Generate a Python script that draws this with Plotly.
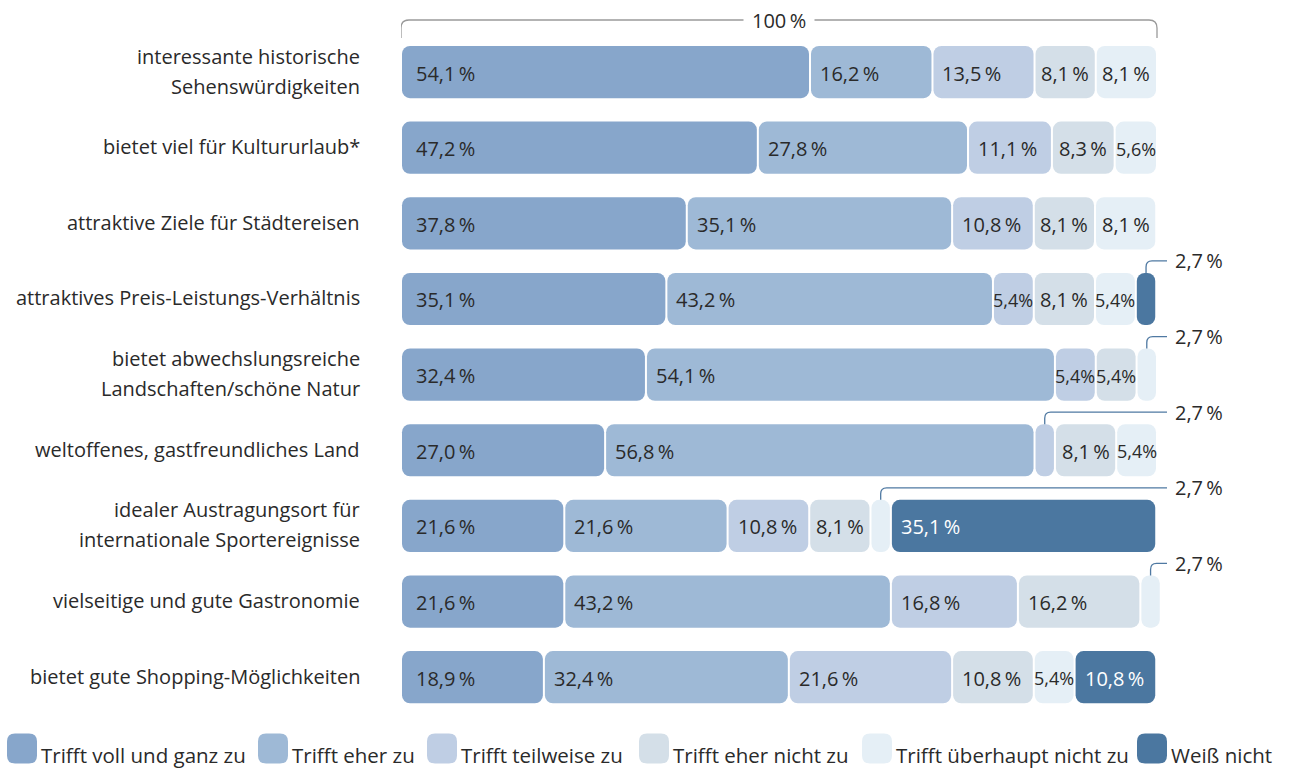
import plotly.graph_objects as go

# ---- data -------------------------------------------------------------
categories = [
    "interessante historische<br>Sehenswürdigkeiten",
    "bietet viel für Kultururlaub*",
    "attraktive Ziele für Städtereisen",
    "attraktives Preis-Leistungs-Verhältnis",
    "bietet abwechslungsreiche<br>Landschaften/schöne Natur",
    "weltoffenes, gastfreundliches Land",
    "idealer Austragungsort für<br>internationale Sportereignisse",
    "vielseitige und gute Gastronomie",
    "bietet gute Shopping-Möglichkeiten",
]
series_names = [
    "Trifft voll und ganz zu",
    "Trifft eher zu",
    "Trifft teilweise zu",
    "Trifft eher nicht zu",
    "Trifft überhaupt nicht zu",
    "Weiß nicht",
]
voll_und_ganz = [54.1, 47.2, 37.8, 35.1, 32.4, 27.0, 21.6, 21.6, 18.9]
eher = [16.2, 27.8, 35.1, 43.2, 54.1, 56.8, 21.6, 43.2, 32.4]
teilweise = [13.5, 11.1, 10.8, 5.4, 5.4, 2.7, 10.8, 16.8, 21.6]
eher_nicht = [8.1, 8.3, 8.1, 8.1, 5.4, 8.1, 8.1, 16.2, 10.8]
ueberhaupt_nicht = [8.1, 5.6, 8.1, 5.4, 2.7, 5.4, 2.7, 2.7, 5.4]
weiss_nicht = [0, 0, 0, 2.7, 0, 0, 35.1, 0, 10.8]
full_scale = 100
full_scale_label = "100\u2009%"

series = [voll_und_ganz, eher, teilweise, eher_nicht, ueberhaupt_nicht, weiss_nicht]
colors = ["#87a6cb", "#9eb9d6", "#bfcee4", "#d4dfe8", "#e5eff6", "#4b77a0"]
text_colors = ["#2a2a2a"] * 5 + ["#ffffff"]

# ---- geometry ---------------------------------------------------------
W, H = 1290, 769
ML, MR, MT, MB = 401, 60, 4, 54.4
PX_X = 7.56            # pixels per percentage point
X_MAX = (W - ML - MR) / PX_X
Y_TOP, Y_BOTTOM = -0.9, 8.5
PX_Y = (H - MT - MB) / (Y_BOTTOM - Y_TOP)
BAR_W = 0.69
HALF_GAP = 1.0 / PX_X
RADIUS = 8
FONT = "Open Sans"
TXT = "#2a2a2a"
CALLOUT = "#4f79a2"


def fmt(v):
    return f"{v:.1f}".replace(".", ",") + "\u2009%"


def fmt_narrow(v):
    return f"{v:.1f}".replace(".", ",") + "%"


def px_to_paper(px, py):
    return (px - ML) / (W - ML - MR), (H - MB - py) / (H - MT - MB)


def rounded_rect(x0, y0, x1, y1, r):
    """Rounded rectangle given in pixel coordinates, returned as a paper path."""
    def p(x, y):
        a, b = px_to_paper(x, y)
        return f"{a:.5f},{b:.5f}"

    return (
        f"M {p(x0 + r, y0)} L {p(x1 - r, y0)} Q {p(x1, y0)} {p(x1, y0 + r)} "
        f"L {p(x1, y1 - r)} Q {p(x1, y1)} {p(x1 - r, y1)} "
        f"L {p(x0 + r, y1)} Q {p(x0, y1)} {p(x0, y1 - r)} "
        f"L {p(x0, y0 + r)} Q {p(x0, y0)} {p(x0 + r, y0)} Z"
    )


rows = list(range(len(categories)))
fig = go.Figure()
annotations = []
shapes = []

# ---- bars: one rounded bar per segment, placed by its cumulative base -------
cum = [0.0] * len(rows)
for k, vals in enumerate(series):
    fig.add_bar(
        y=rows,
        x=[v - 2 * HALF_GAP if v > 0 else None for v in vals],
        base=[c + HALF_GAP for c in cum],
        orientation="h",
        width=BAR_W,
        marker=dict(color=colors[k], cornerradius=RADIUS, line=dict(width=0)),
        hoverinfo="skip",
        showlegend=False,
    )

    for i, (c, v) in enumerate(zip(cum, vals)):
        if v <= 0:
            continue
        if v < 3:
            # small segment: leader line to a label outside the bar
            xc = c + v / 2
            y_bar_top = i - BAR_W / 2
            y_line = y_bar_top - 12 / PX_Y
            x_end = full_scale + 10 / PX_X
            rx, ry = 6 / PX_X, 6 / PX_Y
            shapes.append(dict(
                type="path", xref="x", yref="y",
                path=(f"M {xc},{y_bar_top} L {xc},{y_line + ry} "
                      f"Q {xc},{y_line} {xc + rx},{y_line} L {x_end},{y_line}"),
                line=dict(color=CALLOUT, width=1.3),
            ))
            annotations.append(dict(
                x=x_end, y=y_line, xref="x", yref="y", text=fmt(v),
                showarrow=False, xanchor="left", yanchor="middle", xshift=6,
                font=dict(family=FONT, size=20, color=TXT),
            ))
            continue
        if v >= 10:
            ann = dict(x=c, xanchor="left", xshift=13 if k == 0 else 8, text=fmt(v), size=20)
        elif v >= 6:
            ann = dict(x=c + v / 2, xanchor="center", xshift=0, text=fmt(v), size=20)
        else:
            ann = dict(x=c + v / 2, xanchor="center", xshift=0, text=fmt_narrow(v), size=18)
        annotations.append(dict(
            x=ann["x"], y=i, xref="x", yref="y", text=ann["text"],
            showarrow=False, xanchor=ann["xanchor"], yanchor="middle",
            xshift=ann["xshift"], yshift=-1,
            font=dict(family=FONT, size=ann["size"], color=text_colors[k]),
        ))
    cum = [a + b for a, b in zip(cum, vals)]

# ---- category labels ------------------------------------------------------
for i, cat in enumerate(categories):
    lines = cat.split("<br>")
    n = len(lines)
    for j, line in enumerate(lines):
        annotations.append(dict(
            x=0, y=i, xref="x", yref="y", text=line, showarrow=False,
            xanchor="right", yanchor="middle", xshift=-39,
            yshift=(n - 1) * 15 - j * 30 + 1,
            font=dict(family=FONT, size=20, color=TXT),
        ))

# ---- 100 % bracket ----------------------------------------------------------
yb = Y_TOP + (20 - MT) / PX_Y
yb_end = -BAR_W / 2 - 8 / PX_Y
rx, ry = 8 / PX_X, 8 / PX_Y
shapes.append(dict(
    type="path", xref="x", yref="y",
    path=(f"M 0,{yb_end} L 0,{yb + ry} Q 0,{yb} {rx},{yb} "
          f"L {full_scale - rx},{yb} Q {full_scale},{yb} {full_scale},{yb + ry} "
          f"L {full_scale},{yb_end}"),
    line=dict(color="#9a9a9a", width=1.3),
    layer="below",
))
annotations.append(dict(
    x=full_scale / 2, y=yb, xref="x", yref="y", text=full_scale_label,
    showarrow=False, xanchor="center", yanchor="middle", bgcolor="white",
    borderpad=8, font=dict(family=FONT, size=20, color=TXT),
))

# ---- legend -----------------------------------------------------------------
legend_icon_x = [7, 258, 427, 639, 862, 1137]
for k, name in enumerate(series_names):
    x0 = legend_icon_x[k]
    shapes.append(dict(
        type="path", xref="paper", yref="paper",
        path=rounded_rect(x0, 733, x0 + 30, 763, 8),
        fillcolor=colors[k], line=dict(width=0),
    ))
    xp, yp = px_to_paper(x0 + 34, 755)
    annotations.append(dict(
        x=xp, y=yp, xref="paper", yref="paper", text=name, showarrow=False,
        xanchor="left", yanchor="middle", xshift=-2,
        font=dict(family=FONT, size=20.5, color=TXT),
    ))

fig.update_layout(
    width=W, height=H,
    margin=dict(l=ML, r=MR, t=MT, b=MB, pad=0),
    barmode="overlay",
    paper_bgcolor="white", plot_bgcolor="white",
    xaxis=dict(range=[0, X_MAX], visible=False, fixedrange=True),
    yaxis=dict(range=[Y_BOTTOM, Y_TOP], visible=False, fixedrange=True),
    shapes=shapes,
    annotations=annotations,
    showlegend=False,
    font=dict(family=FONT, color=TXT),
)

fig.write_html("out.html", config={"displayModeBar": False})
